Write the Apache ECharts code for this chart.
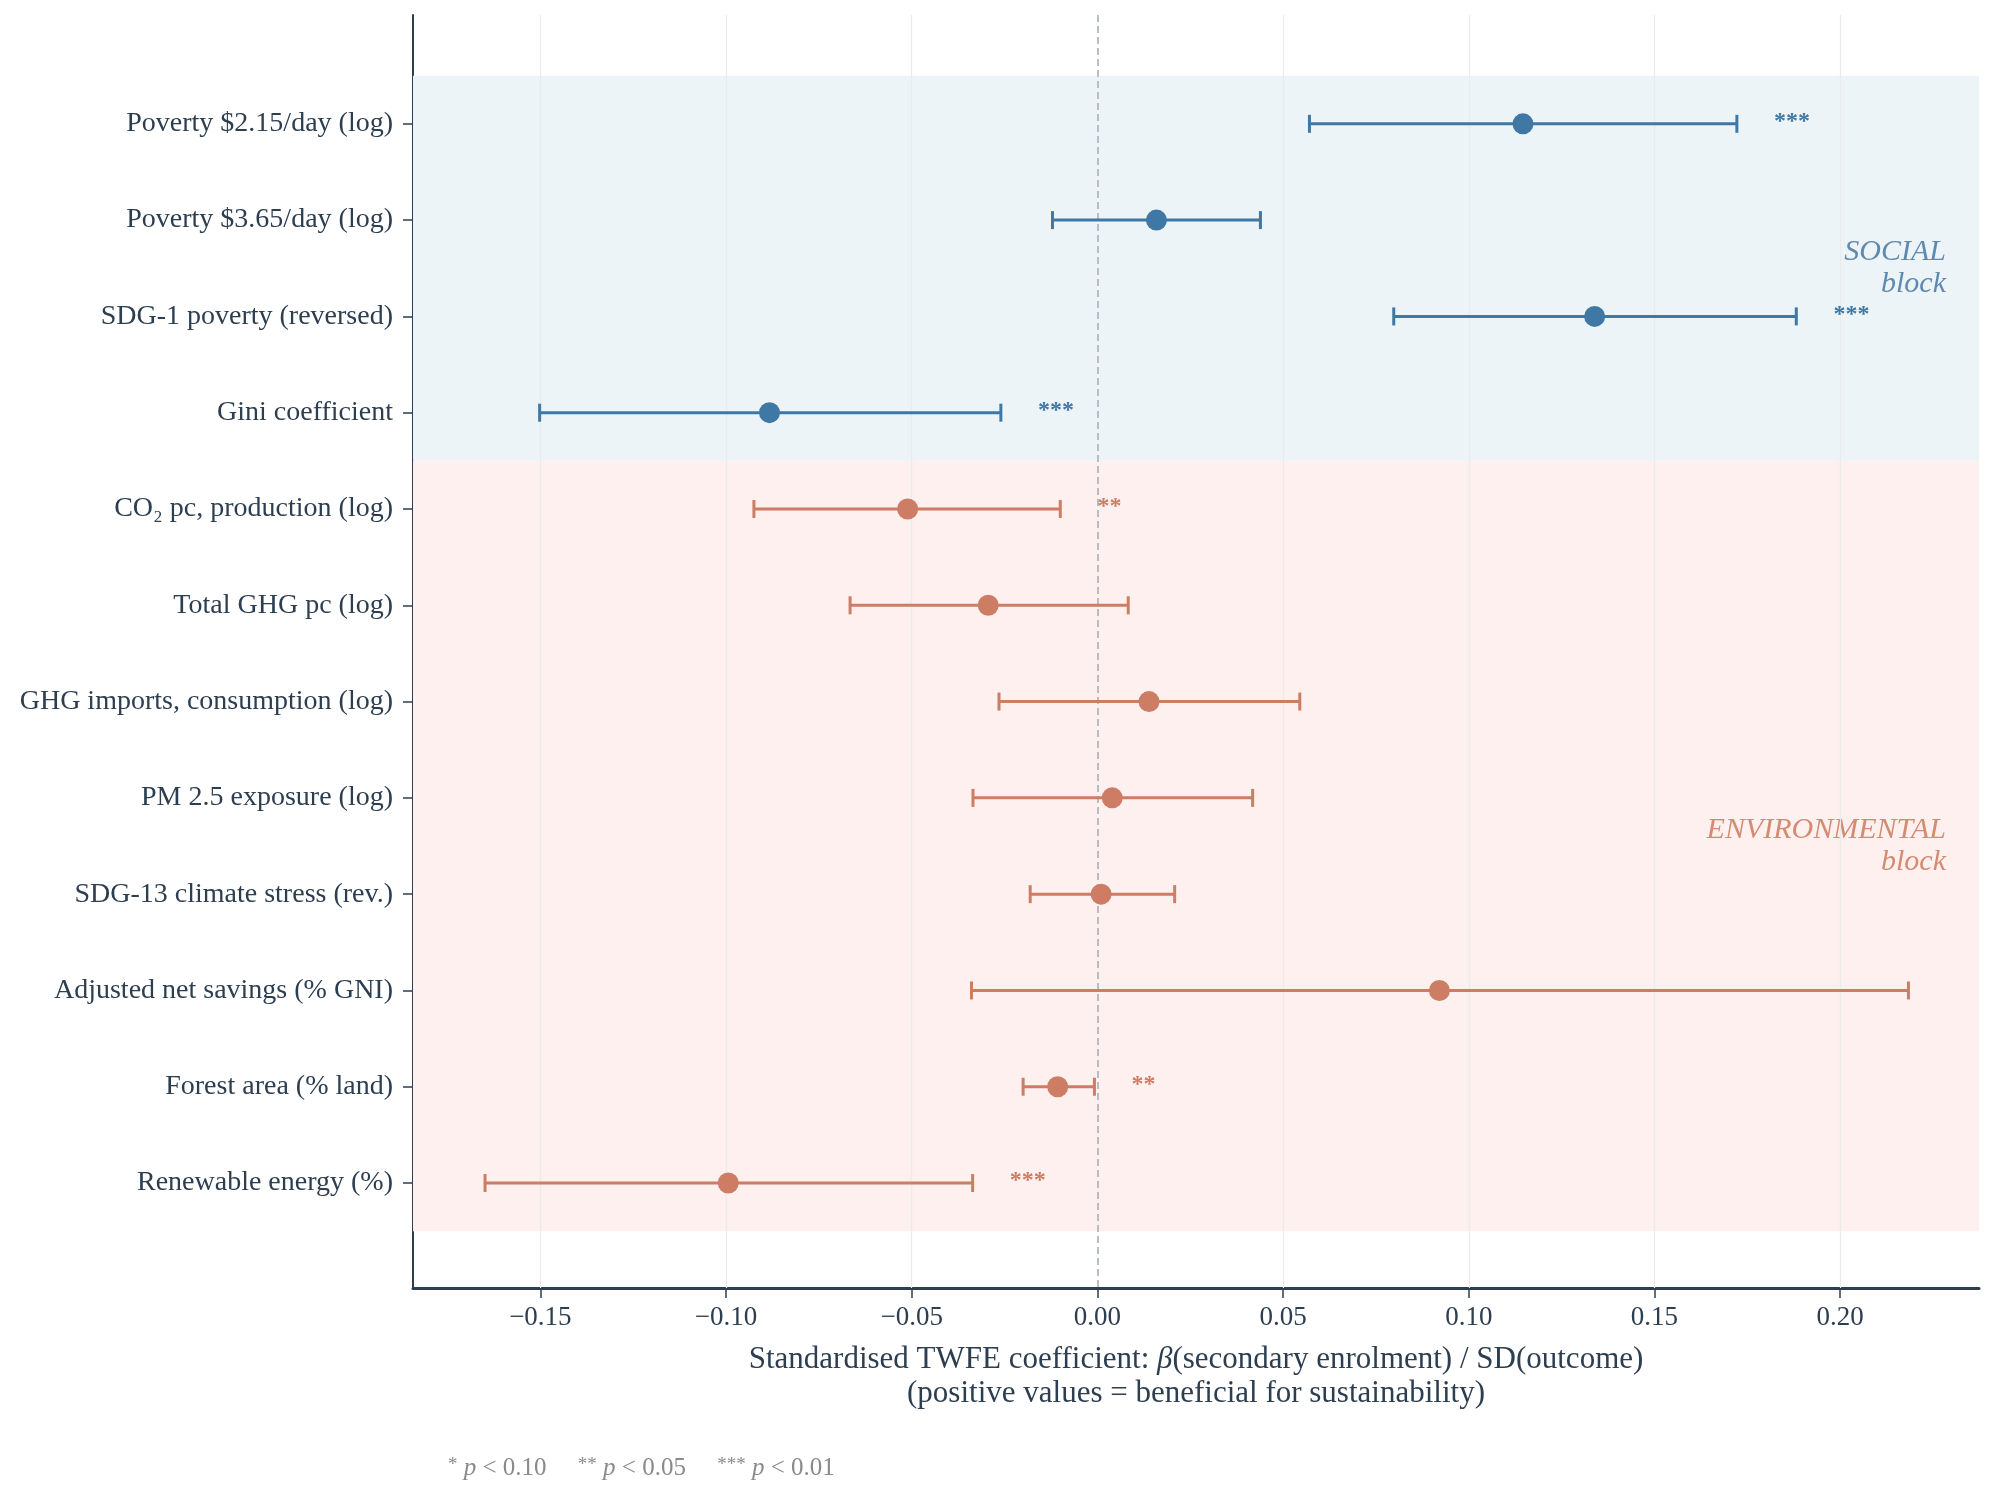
<!DOCTYPE html>
<html>
<head>
<meta charset="utf-8">
<title>Standardised TWFE coefficients</title>
<script src="https://cdn.jsdelivr.net/npm/echarts@6/dist/echarts.min.js"></script>
<style>
  html, body { margin: 0; padding: 0; background: #ffffff; }
  #chart { width: 1994px; height: 1504px; }
</style>
</head>
<body>
<div id="chart"></div>
<script>
// outcomes, top to bottom
var labels = [
    'Poverty $2.15/day (log)',
    'Poverty $3.65/day (log)',
    'SDG-1 poverty (reversed)',
    'Gini coefficient',
    'CO₂ pc, production (log)',
    'Total GHG pc (log)',
    'GHG imports, consumption (log)',
    'PM 2.5 exposure (log)',
    'SDG-13 climate stress (rev.)',
    'Adjusted net savings (% GNI)',
    'Forest area (% land)',
    'Renewable energy (%)'
];
var coef   = [0.1146, 0.0159, 0.1339, -0.0883, -0.0511, -0.0294, 0.0139, 0.0040, 0.0010, 0.0921, -0.0107, -0.0994];
var ciLow  = [0.0571, -0.0121, 0.0798, -0.1502, -0.0925, -0.0666, -0.0265, -0.0335, -0.0181, -0.0339, -0.0200, -0.1649];
var ciHigh = [0.1722, 0.0439, 0.1882, -0.0260, -0.0100, 0.0083, 0.0545, 0.0418, 0.0208, 0.2184, -0.0008, -0.0336];
var stars  = ['***', '', '***', '***', '**', '', '', '', '', '', '**', '***'];
var socialCount = 4;
var xTicks = [-0.15, -0.10, -0.05, 0.00, 0.05, 0.10, 0.15, 0.20];

var SERIF = '"Liberation Serif", "DejaVu Serif", serif';
var INK = '#2c3e50';
var BLUE = '#3f77a5';
var RED = '#cc7d64';

var rows = labels.map(function (l, i) { return i; });

function blockData(from, to, kind) {
    var out = [];
    for (var i = from; i < to; i++) {
        out.push(kind == 'bar' ? [ciLow[i], ciHigh[i], i] : [coef[i], i]);
    }
    return out;
}

function errRenderer(color) {
    return function (params, api) {
        var row = api.value(2);
        var a = api.coord([api.value(0), row]);
        var b = api.coord([api.value(1), row]);
        var cap = 9;
        var st = { stroke: color, lineWidth: 3 };
        var kids = [
            { type: 'line', shape: { x1: a[0], y1: a[1], x2: b[0], y2: b[1] }, style: st },
            { type: 'line', shape: { x1: a[0], y1: a[1] - cap, x2: a[0], y2: a[1] + cap }, style: st },
            { type: 'line', shape: { x1: b[0], y1: b[1] - cap, x2: b[0], y2: b[1] + cap }, style: st }
        ];
        if (stars[row]) {
            var p = api.coord([api.value(1) + 0.01, row]);
            kids.push({
                type: 'text',
                style: {
                    text: stars[row], x: p[0], y: p[1] - 2,
                    align: 'left', verticalAlign: 'middle',
                    fill: color, font: 'bold 24px ' + SERIF
                }
            });
        }
        return { type: 'group', children: kids };
    };
}

function fmtTick(v) {
    return v.toFixed(2).replace('-', '−');
}

var myChart = echarts.init(document.getElementById('chart'));

var gridLines = xTicks.filter(function (v) { return v !== 0; }).map(function (v) {
    return { xAxis: v };
});
gridLines.push({ xAxis: 0, lineStyle: { color: '#aab0b6', width: 1.6, type: [7, 4] } });

var option = {
    backgroundColor: '#ffffff',
    animation: false,
    grid: { left: 413, right: 15, top: 15, bottom: 216 },
    xAxis: {
        type: 'value',
        min: -0.1843,
        max: 0.2374,
        axisLine: { onZero: false, lineStyle: { color: INK, width: 3 } },
        axisTick: { show: true, customValues: xTicks, length: 10, lineStyle: { color: INK, width: 1.5 } },
        axisLabel: {
            customValues: xTicks, formatter: fmtTick, margin: 16,
            color: INK, fontFamily: SERIF, fontSize: 27
        },
        splitLine: { show: false },
        name: 'Standardised TWFE coefficient: {i|β}(secondary enrolment) / SD(outcome)\n(positive values = beneficial for sustainability)',
        nameLocation: 'middle',
        nameGap: 55,
        nameTextStyle: {
            color: INK, fontFamily: SERIF, fontSize: 31, lineHeight: 34,
            rich: { i: { fontStyle: 'italic', color: INK, fontFamily: SERIF, fontSize: 31, lineHeight: 34 } }
        }
    },
    yAxis: {
        type: 'value',
        inverse: true,
        min: -1.13,
        max: 12.09,
        axisLine: { onZero: false, lineStyle: { color: INK, width: 2 } },
        axisTick: { show: true, customValues: rows, length: 10, lineStyle: { color: INK, width: 1.5 } },
        axisLabel: {
            customValues: rows,
            formatter: function (v) { return labels[Math.round(v)]; },
            margin: 20, color: INK, fontFamily: SERIF, fontSize: 28
        },
        splitLine: { show: false }
    },
    series: [
        {
            name: 'social CI',
            type: 'custom',
            z: 3,
            renderItem: errRenderer(BLUE),
            encode: { x: [0, 1], y: 2 },
            data: blockData(0, socialCount, 'bar'),
            markArea: {
                silent: true,
                z: 1,
                data: [
                    [{
                        yAxis: -0.5,
                        itemStyle: { color: '#edf4f8' },
                        label: {
                            show: true, position: 'insideRight', distance: 33,
                            formatter: 'SOCIAL\nblock', align: 'right',
                            color: '#5f8ab0', fontFamily: SERIF, fontStyle: 'italic',
                            fontSize: 30, lineHeight: 32
                        }
                    }, { yAxis: socialCount - 0.5 }],
                    [{
                        yAxis: socialCount - 0.5,
                        itemStyle: { color: '#fdf0ef' },
                        label: {
                            show: true, position: 'insideRight', distance: 33,
                            formatter: 'ENVIRONMENTAL\nblock', align: 'right',
                            color: '#d58a72', fontFamily: SERIF, fontStyle: 'italic',
                            fontSize: 30, lineHeight: 32
                        }
                    }, { yAxis: labels.length - 0.5 }]
                ]
            },
            markLine: {
                silent: true,
                z: 2,
                symbol: ['none', 'none'],
                label: { show: false },
                lineStyle: { color: '#ebebeb', width: 1.2, type: 'solid' },
                data: gridLines
            }
        },
        {
            name: 'environmental CI',
            type: 'custom',
            z: 3,
            renderItem: errRenderer(RED),
            encode: { x: [0, 1], y: 2 },
            data: blockData(socialCount, labels.length, 'bar')
        },
        {
            name: 'social',
            type: 'scatter',
            z: 4,
            symbolSize: 21,
            itemStyle: { color: BLUE, opacity: 1 },
            data: blockData(0, socialCount, 'pt')
        },
        {
            name: 'environmental',
            type: 'scatter',
            z: 4,
            symbolSize: 21,
            itemStyle: { color: RED, opacity: 1 },
            data: blockData(socialCount, labels.length, 'pt')
        }
    ],
    graphic: [
        {
            type: 'text',
            left: 448,
            top: 1456,
            style: {
                text: '{s|*} {i|p} < 0.10     {s|**} {i|p} < 0.05     {s|***} {i|p} < 0.01',
                fill: '#8a8a8a',
                font: '25px ' + SERIF,
                rich: {
                    s: { fontSize: 19, verticalAlign: 'top', fill: '#8a8a8a', fontFamily: SERIF },
                    i: { fontStyle: 'italic', fontSize: 25, fill: '#8a8a8a', fontFamily: SERIF }
                }
            }
        }
    ]
};

myChart.setOption(option);
</script>
</body>
</html>
